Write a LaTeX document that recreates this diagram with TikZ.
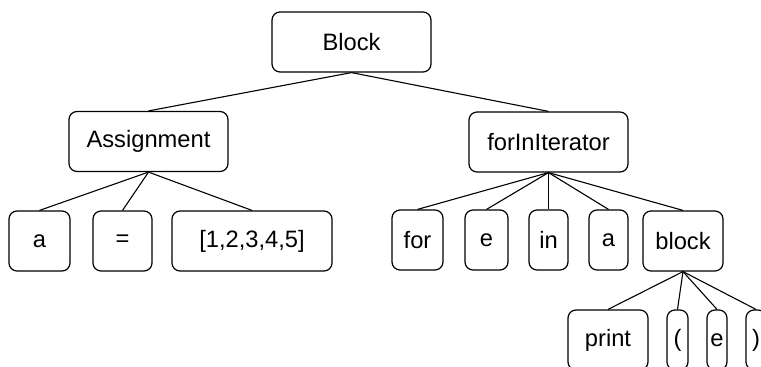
\documentclass[tikz,border=0pt]{standalone}
\usepackage{fontspec}
\setmainfont{Liberation Sans}
\usetikzlibrary{positioning}

\begin{document}
\begin{tikzpicture}[
			x=1pt, y=-1pt,
			every node/.style={
					draw,
					line width=1.2pt,
					rounded corners=8pt,
					align=center,
					inner sep=0pt,
					minimum height=60pt,
					font=\fontsize{23.7}{28}\selectfont
				},
			edge/.style={line width=1.1pt}
		]

		\useasboundingbox (0,0) rectangle (761,367);
		\clip (0,0) rectangle (761,367);

		\node (blk) [minimum width=159pt] at (351.5,42) {Block};

		\node (asg) [minimum width=159pt] at (148.5,141.5) {Assignment};
		\node (fii) [minimum width=159pt] at (548.5,142) {forInIterator};

		% assignment children
		\node (var) [minimum width=61pt] at (39.5,241) {a};
		\node (eq) [minimum width=59pt] at (122.5,241) {=};
		\node (lst) [minimum width=160pt] at (252,241) {[1,2,3,4,5]};

		% for-in children
		\node (kwfor) [minimum width=51pt] at (417.5,240) {for};
		\node (itv) [minimum width=43pt] at (486.5,240) {e};
		\node (kwin) [minimum width=39pt] at (548.5,240) {in};
		\node (seq) [minimum width=39pt] at (608.5,240) {a};
		\node (body) [minimum width=80pt] at (683,241) {block};

		% body children (cut at the edge)
		\node (prn) [minimum width=80pt] at (608,340) {print};
		\node (lpar) [minimum width=21pt] at (677.5,340) {(};
		\node (arg) [minimum width=20pt] at (717,340) {e};
		\node (rpar) [minimum width=20pt] at (756,340) {)};

		\draw[edge] (blk.south) -- (asg.north);
		\draw[edge] (blk.south) -- (fii.north);

		\foreach \c in {var,eq,lst}
			\draw[edge] (asg.south) -- (\c.north);

		\foreach \c in {kwfor,itv,kwin,seq,body}
			\draw[edge] (fii.south) -- (\c.north);

		\foreach \c in {prn,lpar,arg,rpar}
			\draw[edge] (body.south) -- (\c.north);

	\end{tikzpicture}
\end{document}
